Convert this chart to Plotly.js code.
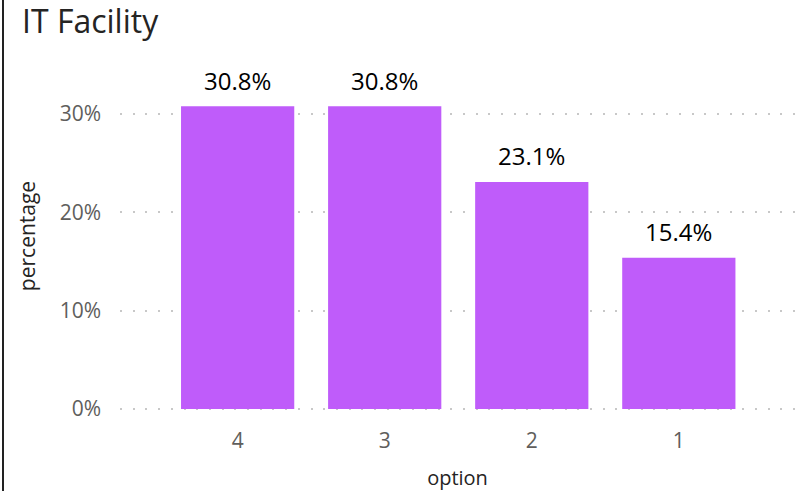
<!DOCTYPE html>
<html><head><meta charset="utf-8">
<script src="https://cdn.plot.ly/plotly-3.0.1.min.js"></script>
<style>
html,body{margin:0;padding:0;background:#fff;}
#wrap{position:relative;width:804px;height:491px;}
#chart{width:804px;height:491px;}
#edge{position:absolute;left:2px;top:0;width:2px;height:491px;background:#222;}
</style></head>
<body><div id="wrap"><div id="chart"></div><div id="edge"></div></div>
<script>
const categories = ["4", "3", "2", "1"];
const values = [0.308, 0.308, 0.231, 0.154];
const labels = ["30.8%", "30.8%", "23.1%", "15.4%"];
const yTicks = [0, 0.1, 0.2, 0.3];
const yTickLabels = ["0%", "10%", "20%", "30%"];

const font = "Segoe UI, Open Sans, sans-serif";
const annotations = categories.map((c, i) => ({
  x: i, y: values[i], xref: "x", yref: "y", text: labels[i], showarrow: false,
  yanchor: "middle", yshift: 26,
  font: {family: font, size: 24, color: "#000"}
}));

Plotly.newPlot("chart", [{
  type: "bar",
  x: categories,
  y: values,
  marker: {color: "#BF5CFA"},
  hoverinfo: "none"
}], {
  width: 804, height: 491,
  margin: {l: 120, r: 9, t: 60, b: 79},
  paper_bgcolor: "#fff", plot_bgcolor: "#fff",
  bargap: 0.23,
  showlegend: false,
  annotations: annotations,
  title: {text: "IT Facility", x: 22/804, xref: "container", xanchor: "left",
    y: 1 - 22/491, yref: "container", yanchor: "middle",
    font: {family: font, size: 32, color: "#252423"}},
  xaxis: {type: "category", range: [-0.8, 3.79], showgrid: false, zeroline: false, showline: false,
    ticks: "", ticklabelstandoff: 14, tickfont: {family: font, size: 21, color: "#605E5C"},
    title: {text: "option", font: {family: font, size: 20, color: "#252423"}, standoff: 22}},
  yaxis: {range: [-0.003, 0.355], tickvals: yTicks, ticktext: yTickLabels, showgrid: true,
    gridcolor: "#C8C8C8", gridwidth: 2, griddash: "2px,10.7px", zeroline: false, showline: false, ticks: "",
    ticklabelstandoff: 18,
    tickfont: {family: font, size: 21, color: "#605E5C"},
    title: {text: "percentage", font: {family: font, size: 21, color: "#252423"}, standoff: 18}}
}, {displayModeBar: false, staticPlot: true});
</script></body></html>
